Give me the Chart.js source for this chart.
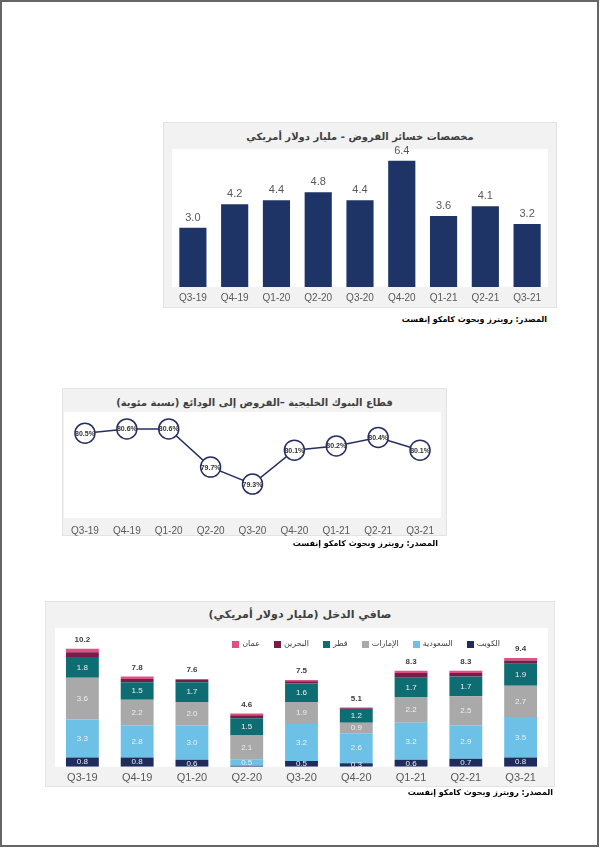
<!DOCTYPE html>
<html><head><meta charset="utf-8">
<script src="https://cdn.jsdelivr.net/npm/chart.js@4.4.0/dist/chart.umd.min.js"></script>
<style>
html,body{margin:0;padding:0;background:#fff;}
body{width:600px;height:848px;position:relative;overflow:hidden;font-family:"Liberation Sans","DejaVu Sans",sans-serif;}
#frame{position:absolute;left:0;top:0;width:599px;height:847px;border:2px solid #666;box-sizing:border-box;}
.card{position:absolute;background:#F2F2F2;border:1px solid #E3E3E3;box-sizing:border-box;}
.title{position:absolute;left:0;right:0;text-align:center;direction:rtl;font-size:10px;line-height:12px;color:#404040;font-weight:bold;font-family:"DejaVu Sans",sans-serif;}
.src{position:absolute;direction:rtl;font-size:8px;line-height:10px;font-weight:bold;color:#000;white-space:nowrap;font-family:"DejaVu Sans",sans-serif;}
canvas{position:absolute;}
#legend3{position:absolute;top:638px;right:100px;display:flex;flex-direction:row-reverse;gap:14px;font-size:8px;line-height:12px;color:#404040;font-family:"DejaVu Sans",sans-serif;}
#legend3 .it{display:flex;flex-direction:row;align-items:center;gap:3px;}
#legend3 .sw{width:7px;height:7px;display:inline-block;}
</style>
</head>
<body>
<div id="frame"></div>

<div class="card" style="left:163px;top:122px;width:394px;height:186px;">
  <div class="title" style="top:8px;">مخصصات خسائر القروض - مليار دولار أمريكي</div>
</div>
<canvas id="c1" width="376" height="170" style="left:172px;top:139px;"></canvas>
<div class="src" style="right:53px;top:315px;">المصدر: رويترز وبحوث كامكو إنفست</div>

<div class="card" style="left:62px;top:388px;width:385px;height:148px;">
  <div class="title" style="top:8px;">قطاع البنوك الخليجية –القروض إلى الودائع (نسبة مئوية)</div>
</div>
<canvas id="c2" width="377" height="132" style="left:64px;top:412px;"></canvas>
<div class="src" style="right:162px;top:539px;">المصدر: رويترز وبحوث كامكو إنفست</div>

<div class="card" style="left:45px;top:601px;width:510px;height:186px;">
  <div class="title" style="top:7px;font-size:11px;">صافي الدخل (مليار دولار أمريكي)</div>
</div>
<canvas id="c3" width="493" height="162" style="left:55px;top:628px;"></canvas>
<div id="legend3"></div>
<div class="src" style="right:47px;top:788px;">المصدر: رويترز وبحوث كامكو إنفست</div>

<script>
// ---------- DATA ----------
const quarters = ['Q3-19','Q4-19','Q1-20','Q2-20','Q3-20','Q4-20','Q1-21','Q2-21','Q3-21'];

// Chart 1: loan loss provisions (USD bn)
const provisions = [3.0, 4.2, 4.4, 4.8, 4.4, 6.4, 3.6, 4.1, 3.2];

// Chart 2: loans to deposits (%)
const loansToDeposits = [80.5, 80.6, 80.6, 79.7, 79.3, 80.1, 80.2, 80.4, 80.1];

// Chart 3: net income (USD bn)
const kuwait  = [0.8, 0.8, 0.6, 0.1, 0.5, 0.3, 0.6, 0.7, 0.8];
const saudi   = [3.3, 2.8, 3.0, 0.5, 3.2, 2.6, 3.2, 2.9, 3.5];
const uae     = [3.6, 2.2, 2.0, 2.1, 1.9, 0.9, 2.2, 2.5, 2.7];
const qatar   = [1.8, 1.5, 1.7, 1.5, 1.6, 1.2, 1.7, 1.7, 1.9];
const bahrain = [0.4, 0.3, 0.2, 0.25, 0.2, 0.06, 0.4, 0.3, 0.3];
const oman    = [0.3, 0.2, 0.1, 0.15, 0.1, 0.06, 0.2, 0.2, 0.2];
const totals  = [10.2, 7.8, 7.6, 4.6, 7.5, 5.1, 8.3, 8.3, 9.4];
const countryNames = ['الكويت','السعودية','الإمارات','قطر','البحرين','عمان'];

// ---------- STYLE ----------
const LAT = '"Liberation Sans","DejaVu Sans",sans-serif';
const countryColors = ['#1F2D5E','#6EC1E6','#A9A9A9','#0E6D72','#7A1C48','#DD5283'];

const whiteArea = {
  id:'whiteArea',
  beforeDraw(chart){
    const a = chart.chartArea, ctx = chart.ctx;
    ctx.save(); ctx.fillStyle = '#FFFFFF';
    ctx.fillRect(a.left, a.top, a.right - a.left, a.bottom - a.top);
    ctx.restore();
  }
};

// ---------- CHART 1 ----------
new Chart(document.getElementById('c1'), {
  type:'bar',
  data:{ labels: quarters, datasets:[{ data: provisions, backgroundColor:'#1F3466', barPercentage:0.65, categoryPercentage:1 }]},
  options:{
    responsive:false, animation:false, layout:{padding:{top:10}, autoPadding:false},
    plugins:{ legend:{display:false}, tooltip:{enabled:false} },
    scales:{
      x:{ grid:{display:false, drawTicks:false}, border:{display:false},
          ticks:{ color:'#595959', font:{size:10, family:LAT}, padding:5 } },
      y:{ display:false, min:0, max:7 }
    }
  },
  plugins:[whiteArea, {
    id:'vals1',
    afterDatasetsDraw(chart){
      const ctx = chart.ctx, meta = chart.getDatasetMeta(0);
      ctx.save(); ctx.fillStyle = '#595959'; ctx.font = '11px ' + LAT;
      ctx.textAlign = 'center'; ctx.textBaseline = 'middle';
      meta.data.forEach((b,i)=>{ ctx.fillText(provisions[i].toFixed(1), b.x, b.y - 10); });
      ctx.restore();
    }
  }]
});

// ---------- CHART 2 ----------
new Chart(document.getElementById('c2'), {
  type:'line',
  data:{ labels: quarters, datasets:[{
    data: loansToDeposits, borderColor:'#272F60', borderWidth:1.5, tension:0,
    pointRadius:10, pointBackgroundColor:'#FFFFFF', pointBorderColor:'#272F60', pointBorderWidth:1.5, clip:false
  }]},
  options:{
    responsive:false, animation:false, layout:{padding:0, autoPadding:false},
    plugins:{ legend:{display:false}, tooltip:{enabled:false} },
    scales:{
      x:{ offset:true, grid:{display:false, drawTicks:false}, border:{display:false},
          ticks:{ color:'#595959', font:{size:10, family:LAT}, padding:7 } },
      y:{ display:false, min:78.5, max:81.0 }
    }
  },
  plugins:[whiteArea, {
    id:'vals2',
    afterDatasetsDraw(chart){
      const ctx = chart.ctx, meta = chart.getDatasetMeta(0);
      ctx.save(); ctx.fillStyle = '#333333'; ctx.font = 'bold 7px ' + LAT;
      ctx.textAlign = 'center'; ctx.textBaseline = 'middle';
      meta.data.forEach((p,i)=>{ ctx.fillText(loansToDeposits[i].toFixed(1) + '%', p.x, p.y + 0.5); });
      ctx.restore();
    }
  }]
});

// ---------- CHART 3 ----------
const series3 = [kuwait, saudi, uae, qatar, bahrain, oman];
const labelled3 = [true, true, true, true, false, false];
new Chart(document.getElementById('c3'), {
  type:'bar',
  data:{ labels: quarters, datasets: series3.map((d,k)=>({
    label: countryNames[k], data: d, backgroundColor: countryColors[k],
    barPercentage:0.6, categoryPercentage:1, stack:'s'
  }))},
  options:{
    responsive:false, animation:false, layout:{padding:0, autoPadding:false},
    plugins:{ legend:{display:false}, tooltip:{enabled:false} },
    scales:{
      x:{ stacked:true, grid:{display:false, drawTicks:false}, border:{display:false},
          ticks:{ color:'#595959', font:{size:11, family:LAT}, padding:5 } },
      y:{ stacked:true, display:false, min:0, max:12 }
    }
  },
  plugins:[whiteArea, {
    id:'vals3',
    afterDatasetsDraw(chart){
      const ctx = chart.ctx;
      ctx.save();
      ctx.textAlign = 'center'; ctx.textBaseline = 'middle';
      ctx.font = '8px ' + LAT; ctx.fillStyle = '#EDEDED';
      series3.forEach((d,k)=>{
        if(!labelled3[k]) return;
        const meta = chart.getDatasetMeta(k);
        meta.data.forEach((b,i)=>{
          if(d[i] < 0.3) return;
          ctx.fillText(d[i].toFixed(1), b.x, (b.y + b.base)/2);
        });
      });
      const top = chart.getDatasetMeta(series3.length - 1);
      ctx.font = 'bold 8px ' + LAT; ctx.fillStyle = '#404040'; ctx.textBaseline = 'bottom';
      top.data.forEach((b,i)=>{ ctx.fillText(totals[i].toFixed(1), b.x, b.y - 5); });
      ctx.restore();
    }
  }]
});

// HTML legend for chart 3 (right-to-left order)
const lg = document.getElementById('legend3');
countryNames.forEach((n,k)=>{
  const it = document.createElement('div'); it.className = 'it';
  const sw = document.createElement('span'); sw.className = 'sw'; sw.style.background = countryColors[k];
  const tx = document.createElement('span'); tx.textContent = n;
  it.appendChild(sw); it.appendChild(tx); lg.appendChild(it);
});
</script>
</body></html>
